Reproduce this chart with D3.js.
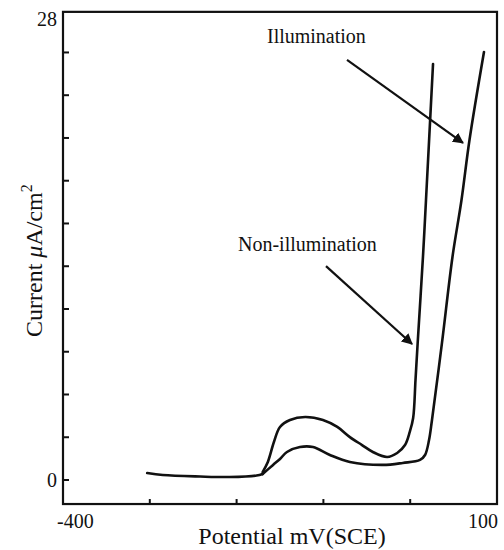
<!DOCTYPE html>
<html lang="en">

<head>
   <meta charset="UTF-8">
   <title>Polarization Curves</title>
   <script src="https://d3js.org/d3.v7.min.js"></script>
   <style>
      body {
         margin: 0;
         background: #fff;
         font-family: "Liberation Serif", "Times New Roman", serif;
      }

      .frame {
         fill: none;
         stroke: #111;
         stroke-width: 2.2;
      }

      .tick-mark {
         stroke: #111;
         stroke-width: 2;
      }

      .curve {
         fill: none;
         stroke: #111;
         stroke-width: 2.6;
         stroke-linejoin: round;
         stroke-linecap: round;
      }

      .arrow {
         stroke: #111;
         stroke-width: 2.2;
      }

      text {
         fill: #111;
      }
   </style>
</head>

<body>
   <div id="chart"></div>

   <script>
      // shared baseline before the two curves split (potential mV, current uA/cm2)
      const baseX = [-303, -285, -242, -208, -177, -170];
      const baseY = [0.42, 0.30, 0.21, 0.18, 0.27, 0.36];

      // non-illumination curve (higher hump, rises first)
      const darkX = [-170, -164, -157, -150, -138.5, -121, -100.5, -84, -69.5, -55.5, -43, -26.5, -15, -6, -0.5, 3.4, 6.1, 8.6, 14.7, 18.2, 26.3];
      const darkY = [0.48, 1.09, 2.29, 3.20, 3.62, 3.80, 3.62, 3.20, 2.59, 2.11, 1.69, 1.39, 1.63, 2.11, 2.90, 3.74, 6.03, 8.27, 13.46, 16.90, 25.10];

      // illumination curve (lower hump, shifted to the right)
      const lightX = [-170, -158, -150, -142, -127, -112, -92.5, -69.5, -31.5, -8.5, 11.3, 17.1, 21.7, 25.1, 36.6, 48.7, 59.1, 68.3, 85];
      const lightY = [0.36, 0.91, 1.27, 1.69, 1.99, 1.99, 1.51, 1.09, 0.91, 1.03, 1.21, 1.51, 2.41, 3.62, 8.27, 13.46, 16.90, 20.52, 25.83];

      // axis ticks
      const xTicks = [-300, -200, -100, 0];
      const yTicks = [0, 2.58, 5.16, 7.74, 10.32, 12.9, 15.48, 18.06, 20.64, 23.22, 25.8];
      const xTickLabels = ['-400', '100'];
      const yTickLabels = ['0', '28'];

      const width = 504;
      const height = 550;

      const svg = d3.select('#chart')
         .append('svg')
         .attr('width', width)
         .attr('height', height);

      const xScale = d3.scaleLinear()
         .domain([-400, 100])
         .range([63, 497]);

      const yScale = d3.scaleLinear()
         .domain([0, 28])
         .range([480, 16]);

      // plot box goes a bit past the data range
      const xMin = -400, xMax = 100, yMin = -1.45, yMax = 28.25;

      svg.append('rect')
         .attr('class', 'frame')
         .attr('x', xScale(xMin))
         .attr('y', yScale(yMax))
         .attr('width', xScale(xMax) - xScale(xMin))
         .attr('height', yScale(yMin) - yScale(yMax));

      // inward ticks on left and bottom
      svg.selectAll('.ytick')
         .data(yTicks)
         .enter()
         .append('line')
         .attr('class', 'tick-mark')
         .attr('x1', xScale(xMin))
         .attr('x2', xScale(xMin) + 6)
         .attr('y1', d => yScale(d))
         .attr('y2', d => yScale(d));

      svg.selectAll('.xtick')
         .data(xTicks)
         .enter()
         .append('line')
         .attr('class', 'tick-mark')
         .attr('x1', d => xScale(d))
         .attr('x2', d => xScale(d))
         .attr('y1', yScale(yMin))
         .attr('y2', yScale(yMin) - 5);

      // tick labels
      svg.selectAll('.ylabel')
         .data(yTickLabels)
         .enter()
         .append('text')
         .attr('x', xScale(xMin) - 6)
         .attr('y', (d, i) => i === 0 ? yScale(+d) : yScale(+d) + 3)
         .attr('dy', '0.35em')
         .attr('text-anchor', 'end')
         .attr('font-size', 20)
         .text(d => d);

      svg.selectAll('.xlabel')
         .data(xTickLabels)
         .enter()
         .append('text')
         .attr('x', (d, i) => i === 0 ? xScale(+d) - 6 : xScale(+d) + 1)
         .attr('y', 528)
         .attr('text-anchor', (d, i) => i === 0 ? 'start' : 'end')
         .attr('font-size', 20)
         .text(d => d);

      // axis titles
      svg.append('text')
         .attr('x', (xScale(xMin) + xScale(xMax)) / 2 + 12)
         .attr('y', 544)
         .attr('text-anchor', 'middle')
         .attr('font-size', 24)
         .text('Potential mV(SCE)');

      const yTitle = svg.append('text')
         .attr('transform', 'translate(42, 337) rotate(-90)')
         .attr('font-size', 24);
      yTitle.append('tspan').text('Current ');
      yTitle.append('tspan').attr('font-style', 'italic').text('\u03bc');
      yTitle.append('tspan').text('A/cm');
      yTitle.append('tspan').attr('font-size', 16).attr('dy', -10).text('2');

      // curves
      const line = d3.line()
         .x(d => xScale(d[0]))
         .y(d => yScale(d[1]))
         .curve(d3.curveCatmullRom.alpha(0.5));

      const baseline = baseX.map((x, i) => [x, baseY[i]]);
      const dark = darkX.map((x, i) => [x, darkY[i]]);
      const light = lightX.map((x, i) => [x, lightY[i]]);

      [baseline, dark, light].forEach(pts => {
         svg.append('path')
            .attr('class', 'curve')
            .attr('d', line(pts));
      });

      // arrow head marker
      svg.append('defs')
         .append('marker')
         .attr('id', 'head')
         .attr('viewBox', '0 0 10 10')
         .attr('refX', 9)
         .attr('refY', 5)
         .attr('markerWidth', 5)
         .attr('markerHeight', 5)
         .attr('markerUnits', 'strokeWidth')
         .attr('orient', 'auto')
         .append('path')
         .attr('d', 'M0,0 L10,5 L0,10 z')
         .attr('fill', '#111');

      // annotations: label position and arrow from/to, in data units
      const notes = [
         { text: 'Illumination', tx: -165, ty: 26.37, from: [-72.8, 25.35], to: [60.8, 20.34] },
         { text: 'Non-illumination', tx: -198.4, ty: 13.82, from: [-97, 12.91], to: [2.1, 8.21] }
      ];

      notes.forEach(n => {
         svg.append('text')
            .attr('x', xScale(n.tx))
            .attr('y', yScale(n.ty))
            .attr('font-size', 20)
            .text(n.text);

         svg.append('line')
            .attr('class', 'arrow')
            .attr('x1', xScale(n.from[0]))
            .attr('y1', yScale(n.from[1]))
            .attr('x2', xScale(n.to[0]))
            .attr('y2', yScale(n.to[1]))
            .attr('marker-end', 'url(#head)');
      });
   </script>
</body>

</html>
